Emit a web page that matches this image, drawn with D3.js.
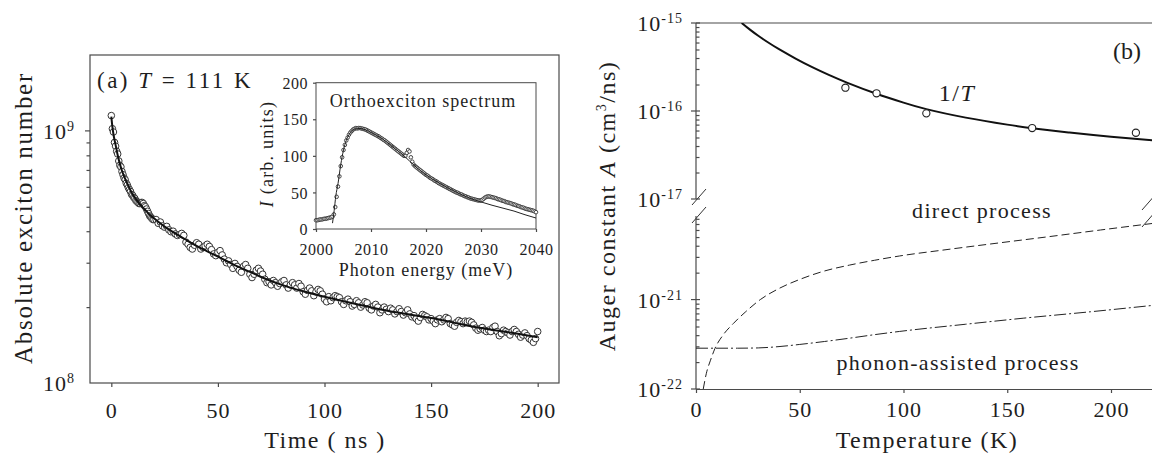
<!DOCTYPE html>
<html>
<head>
<meta charset="utf-8">
<script src="https://cdn.jsdelivr.net/npm/d3@7"></script>
<style>
body { margin: 0; background: #fff; }
text { font-family: "Liberation Serif", "Times New Roman", serif; fill: #1e1e1e; }
</style>
</head>
<body>
<svg id="fig" width="1152" height="454"></svg>
<script>
// ---- panel (a): exciton number decay, units of 1e8 ----
var earlyStep = 0.5;   // samples 0..20 ns
var earlyN = [11.5,10.2,9.9,9.0,8.7,8.3,8.1,7.6,7.3,7.2,6.9,6.7,6.5,6.4,6.2,6.1,5.95,5.85,5.75,5.6,
  5.55,5.45,5.4,5.3,5.25,5.2,5.15,5.15,5.2,5.2,5.15,5.05,5.0,4.9,4.8,4.7,4.6,4.55,4.5,4.45,4.45];
var lateStart = 21;    // samples 21..200 ns, 1 ns apart
var lateN = [4.45,4.3,4.35,4.2,4.15,4.18,4.05,3.98,4.0,3.9,
  3.85,3.88,3.92,3.85,3.62,3.55,3.45,3.4,3.52,3.6,
  3.55,3.4,3.45,3.5,3.55,3.48,3.38,3.25,3.2,3.3,
  3.35,3.22,3.1,3.0,3.05,2.95,2.85,2.98,2.9,2.8,
  2.75,2.9,2.95,2.85,2.7,2.62,2.7,2.8,2.85,2.78,
  2.7,2.58,2.5,2.52,2.45,2.55,2.5,2.42,2.48,2.52,
  2.55,2.45,2.38,2.45,2.5,2.45,2.38,2.48,2.42,2.3,
  2.25,2.33,2.38,2.32,2.22,2.3,2.35,2.32,2.25,2.15,
  2.1,2.2,2.12,2.18,2.22,2.2,2.18,2.1,2.05,2.12,
  2.15,2.1,2.02,2.05,2.12,2.08,2.0,2.04,2.1,2.08,
  1.98,1.95,2.02,2.05,2.0,1.9,1.95,2.0,1.96,1.92,
  1.98,1.95,1.88,1.92,1.97,1.92,1.86,1.9,1.95,1.88,
  1.83,1.85,1.8,1.76,1.82,1.87,1.85,1.83,1.78,1.8,
  1.76,1.72,1.78,1.8,1.75,1.78,1.82,1.8,1.72,1.7,
  1.68,1.74,1.77,1.75,1.72,1.76,1.75,1.76,1.74,1.7,
  1.65,1.62,1.64,1.66,1.62,1.6,1.62,1.6,1.66,1.68,
  1.6,1.54,1.57,1.62,1.6,1.58,1.55,1.6,1.63,1.6,
  1.56,1.52,1.55,1.58,1.54,1.5,1.48,1.45,1.5,1.6];
var fitT = [0,0.5,1,2,3,4,5,6,8,10,12,14,16,18,20,25,30,35,40,45,50,55,60,65,70,80,90,100,110,120,130,140,150,160,170,180,190,200];
var fitN = [11.4,10.4,9.7,8.8,8.0,7.4,6.95,6.6,6.05,5.6,5.3,5.05,4.85,4.65,4.5,4.17,3.92,3.7,3.5,3.33,3.17,3.02,2.88,2.76,2.64,2.45,2.31,2.2,2.1,2.01,1.93,1.87,1.81,1.74,1.67,1.62,1.57,1.52];
var timeTicks = [0,50,100,150,200];
var nMinor = [2,3,4,5,6,7,8,9].map(function(k){ return k*1e8; });

// ---- inset: orthoexciton spectrum ----
var specStart = 2000, specStep = 0.25;
var specI = [12,12,12.5,13,13,13.5,14,14,14.5,15,15.5,16,17,20,30,44,58,72,86,98,
  108,115,121,125,129,132,134,136,137,138,137.5,138,138,137.5,137,136.5,136,135,134,133,
  132,131,130,129,128,127,126,124.5,123.5,122,121,119.5,118,116.5,115,113.5,112,110.5,109,107.5,
  106,104.5,103,101.5,100,100,104,108,106,98,92,88,86,84.5,83,81.5,80,78.5,77,75.5,
  74,73,71.5,70,69,68,66.5,65.5,64.5,63,62,61,60,59,58,57,56,55,54,53,
  52,51,50,49.5,48.5,47.5,47,46,45,44.5,43.5,43,42,41.5,41,40.5,40,39.5,39,39,
  39,40,41.5,43,44,44.5,44.5,44,43.5,43,42.5,42,41,40.5,40,39,38.5,38,37,36.5,
  36,35.5,35,34,33.5,33,32,31.5,31,30,29.5,29,28,27.5,27,26.5,26,25.5,25,24,
  23];
var specFitE = [2003,2003.3,2003.6,2004,2004.5,2005,2005.5,2006,2007,2008,2009,2010,2012,2014,2016,2018,2020,2022,2024,2026,2028,2030,2032,2034,2036,2038,2040];
var specFitI = [8,25,45,62,88,108,121,129,136.5,137.5,135.5,132,123.5,112,100,86,74,64.5,56,48.5,42,37,32.5,28.5,24.5,19.5,15];
var energyTicks = [2000,2010,2020,2030,2040];
var intensityTicks = [0,50,100,150,200];

// ---- panel (b): Auger constant ----
var tempPts = [72,87,111,162,212];
var augerPts = [1.84e-16,1.59e-16,9.4e-17,6.4e-17,5.66e-17];
var fitTemp = [22,26,30,35,40,48,56,64,73,87,100,111,130,150,162,180,200,220];
var fitAuger = [1e-15,8.41e-16,7.16e-16,5.96e-16,5.04e-16,3.94e-16,3.15e-16,2.57e-16,2.09e-16,1.57e-16,1.245e-16,1.05e-16,8.41e-17,7.0e-17,6.38e-17,5.69e-17,5.1e-17,4.66e-17];
var directT = [3.5,5,7,9.2,13,18,24,31,40,50,62,74,86,98,120,146,170,195,220];
var directA = [1e-22,1.5e-22,2.1e-22,2.86e-22,4e-22,5.4e-22,7.33e-22,1e-21,1.33e-21,1.68e-21,2.09e-21,2.43e-21,2.75e-21,3.07e-21,3.6e-21,4.3e-21,5.05e-21,6.0e-21,7.1e-21];
var phononT = [0,20,30,40,50,62,74,86,98,130,158,190,220];
var phononA = [2.86e-22,2.86e-22,2.88e-22,2.98e-22,3.15e-22,3.4e-22,3.7e-22,4.05e-22,4.4e-22,5.3e-22,6.2e-22,7.3e-22,8.6e-22];
var tempTicks = [0,50,100,150,200];
var upperMajor = [1e-17,1e-16,1e-15], upperExp = ["-17","-16","-15"];
var lowerMajor = [1e-22,1e-21], lowerExp = ["-22","-21"];
var upperMinor = [2,3,4,5,6,7,8,9].map(function(k){ return k*1e-17; })
  .concat([2,3,4,5,6,7,8,9].map(function(k){ return k*1e-16; }));
var lowerMinor = [2,3,4,5,6,7,8,9].map(function(k){ return k*1e-22; })
  .concat([2,3,4,5,6,7,8].map(function(k){ return k*1e-21; }));

var svg = d3.select("#fig");
var axisCol = "#4a4a4a";

function powLabel(g, x, y, exp) {
  var t = g.append("text").attr("x", x).attr("y", y).attr("text-anchor", "end")
    .style("font-size", "22px").style("letter-spacing", "1px");
  t.append("tspan").text("10");
  t.append("tspan").attr("dy", -8).style("font-size", "14px").text(exp);
}
function styleAxis(sel, fs) {
  sel.selectAll("path,line").attr("stroke", axisCol).attr("stroke-width", 1.2);
  sel.selectAll("text").style("font-size", fs).style("letter-spacing", "1px")
    .attr("fill", "#1e1e1e").style("font-family", "Liberation Serif");
}

// ================= panel (a) =================
var xA = d3.scaleLinear().domain([-10, 210]).range([90, 559]);
var yA = d3.scaleLog().domain([1e8, 2e9]).range([383, 55]);
var pa = svg.append("g");
pa.append("rect").attr("x", 90).attr("y", 55).attr("width", 469).attr("height", 328)
  .attr("fill", "none").attr("stroke", axisCol).attr("stroke-width", 1.2);

var gxa = pa.append("g").attr("transform", "translate(0,383)")
  .call(d3.axisBottom(xA).tickValues(timeTicks).tickSize(4).tickSizeOuter(0).tickFormat(d3.format("d")));
styleAxis(gxa, "22px");
gxa.select(".domain").remove();
gxa.selectAll("text").attr("y", 35).attr("dy", 0);

var gya = pa.append("g").attr("transform", "translate(90,0)")
  .call(d3.axisLeft(yA).tickValues(nMinor).tickSize(3.5).tickFormat(""));
styleAxis(gya, "22px");
gya.select(".domain").remove();
pa.append("line").attr("x1", 85).attr("x2", 90).attr("y1", yA(1e9)).attr("y2", yA(1e9))
  .attr("stroke", axisCol).attr("stroke-width", 1.2);
powLabel(pa, 75, yA(1e9) + 8, "9");
powLabel(pa, 75, yA(1e8) + 8, "8");

var decay = earlyN.map(function(v, i){ return [i*earlyStep, v*1e8]; })
  .concat(lateN.map(function(v, i){ return [lateStart + i, v*1e8]; }));
pa.append("g").selectAll("circle").data(decay).enter().append("circle")
  .attr("cx", function(d){ return xA(d[0]); })
  .attr("cy", function(d){ return yA(d[1]); })
  .attr("r", 3.3).attr("fill", "#fff").attr("stroke", "#333").attr("stroke-width", 1);
var lineA = d3.line().curve(d3.curveMonotoneX)
  .x(function(d){ return xA(d[0]); }).y(function(d){ return yA(d[1]); });
pa.append("path").datum(fitT.map(function(t, i){ return [t, fitN[i]*1e8]; }))
  .attr("d", lineA).attr("fill", "none").attr("stroke", "#111").attr("stroke-width", 2);

pa.append("text").attr("x", 325).attr("y", 448).attr("text-anchor", "middle")
  .style("font-size", "24px").style("letter-spacing", "1.5px").text("Time ( ns )");
pa.append("text").attr("transform", "translate(32,218) rotate(-90)").attr("text-anchor", "middle")
  .style("font-size", "25px").style("letter-spacing", "1.7px").text("Absolute exciton number");
var ta = pa.append("text").attr("x", 97).attr("y", 88).style("font-size", "23px").style("letter-spacing", "2.5px");
ta.append("tspan").text("(a) ");
ta.append("tspan").style("font-style", "italic").text("T");
ta.append("tspan").text(" = 111 K");

// ================= inset =================
var xI = d3.scaleLinear().domain([2000, 2040]).range([316, 536]);
var yI = d3.scaleLinear().domain([0, 200]).range([229, 82.7]);
var pi = svg.append("g");
pi.append("rect").attr("x", 316).attr("y", 82.7).attr("width", 220).attr("height", 146.3)
  .attr("fill", "#fff").attr("stroke", axisCol).attr("stroke-width", 1);
var gxi = pi.append("g").attr("transform", "translate(0,229)")
  .call(d3.axisBottom(xI).tickValues(energyTicks).tickSize(3).tickSizeOuter(0).tickFormat(d3.format("d")));
styleAxis(gxi, "16px");
gxi.select(".domain").remove();
gxi.selectAll("text").attr("y", 26).attr("dy", 0).style("letter-spacing", "0.5px");
var gyi = pi.append("g").attr("transform", "translate(316,0)")
  .call(d3.axisLeft(yI).tickValues(intensityTicks).tickSize(3).tickSizeOuter(0).tickFormat(d3.format("d")));
styleAxis(gyi, "16px");
gyi.select(".domain").remove();
gyi.selectAll("text").attr("x", -8).attr("dy", "0.35em").style("letter-spacing", "0.5px");

var spec = specI.map(function(v, i){ return [specStart + i*specStep, v]; });
pi.append("g").selectAll("circle").data(spec).enter().append("circle")
  .attr("cx", function(d){ return xI(d[0]); })
  .attr("cy", function(d){ return yI(d[1]); })
  .attr("r", 1.8).attr("fill", "#fff").attr("stroke", "#333").attr("stroke-width", 0.9);
var lineI = d3.line().curve(d3.curveMonotoneX)
  .x(function(d){ return xI(d[0]); }).y(function(d){ return yI(d[1]); });
pi.append("path").datum(specFitE.map(function(e, i){ return [e, specFitI[i]]; }))
  .attr("d", lineI).attr("fill", "none").attr("stroke", "#222").attr("stroke-width", 1);

pi.append("text").attr("x", 423).attr("y", 107).attr("text-anchor", "middle")
  .style("font-size", "18px").style("letter-spacing", "1px").text("Orthoexciton spectrum");
pi.append("text").attr("x", 426).attr("y", 276).attr("text-anchor", "middle")
  .style("font-size", "18px").style("letter-spacing", "1px").text("Photon energy (meV)");
var ti = pi.append("text").attr("transform", "translate(273,154) rotate(-90)").attr("text-anchor", "middle")
  .style("font-size", "18px").style("letter-spacing", "1.2px");
ti.append("tspan").style("font-style", "italic").text("I");
ti.append("tspan").text(" (arb. units)");

// ================= panel (b) =================
var xB = d3.scaleLinear().domain([0, 220]).range([696, 1152.5]);
var yUp = d3.scaleLog().domain([1e-17, 1e-15]).range([199, 23]);
var yLo = d3.scaleLog().domain([1e-22, 8.6e-21]).range([389, 216]);
var pb = svg.append("g");

var defs = svg.append("defs");
defs.append("clipPath").attr("id", "clipUp").append("rect")
  .attr("x", 696).attr("y", 23).attr("width", 460).attr("height", 176);
defs.append("clipPath").attr("id", "clipLo").append("rect")
  .attr("x", 696).attr("y", 216).attr("width", 460).attr("height", 173);

// frame pieces
pb.append("line").attr("x1", 696).attr("x2", 1152).attr("y1", 23).attr("y2", 23)
  .attr("stroke", axisCol).attr("stroke-width", 1.2);
pb.append("line").attr("x1", 696).attr("x2", 696).attr("y1", 23).attr("y2", 199)
  .attr("stroke", axisCol).attr("stroke-width", 1.2);
pb.append("line").attr("x1", 696).attr("x2", 696).attr("y1", 216).attr("y2", 389)
  .attr("stroke", axisCol).attr("stroke-width", 1.2);

var gxb = pb.append("g").attr("transform", "translate(0,389)")
  .call(d3.axisBottom(xB).tickValues(tempTicks).tickSize(4).tickSizeOuter(0).tickFormat(d3.format("d")));
styleAxis(gxb, "22px");
gxb.selectAll("text").attr("y", 28).attr("dy", 0);

[[yUp, upperMinor], [yLo, lowerMinor]].forEach(function(p) {
  var g = pb.append("g").attr("transform", "translate(696,0)")
    .call(d3.axisRight(p[0]).tickValues(p[1]).tickSize(3.5).tickFormat(""));
  styleAxis(g, "22px");
  g.select(".domain").remove();
});
upperMajor.forEach(function(v, i) {
  pb.append("line").attr("x1", 691).attr("x2", 700).attr("y1", yUp(v)).attr("y2", yUp(v))
    .attr("stroke", axisCol).attr("stroke-width", 1.2);
  powLabel(pb, 683, yUp(v) + 8, upperExp[i]);
});
lowerMajor.forEach(function(v, i) {
  pb.append("line").attr("x1", 691).attr("x2", 700).attr("y1", yLo(v)).attr("y2", yLo(v))
    .attr("stroke", axisCol).attr("stroke-width", 1.2);
  powLabel(pb, 683, yLo(v) + 8, lowerExp[i]);
});

// axis break marks
[[699, 197], [699, 215], [1149, 202], [1149, 219]].forEach(function(b) {
  pb.append("line").attr("x1", b[0] - 7).attr("y1", b[1] + 8).attr("x2", b[0] + 7).attr("y2", b[1] - 8)
    .attr("stroke", "#333").attr("stroke-width", 1);
});

var upLine = d3.line().curve(d3.curveNatural)
  .x(function(d){ return xB(d[0]); }).y(function(d){ return yUp(d[1]); });
var loLine = d3.line().curve(d3.curveMonotoneX)
  .x(function(d){ return xB(d[0]); }).y(function(d){ return yLo(d[1]); });

pb.append("path").attr("clip-path", "url(#clipUp)")
  .datum(fitTemp.map(function(t, i){ return [t, fitAuger[i]]; }))
  .attr("d", upLine).attr("fill", "none").attr("stroke", "#111").attr("stroke-width", 2);
pb.append("g").selectAll("circle").data(tempPts).enter().append("circle")
  .attr("cx", function(d){ return xB(d); })
  .attr("cy", function(d, i){ return yUp(augerPts[i]); })
  .attr("r", 3.6).attr("fill", "#fff").attr("stroke", "#222").attr("stroke-width", 1.1);

pb.append("path").attr("clip-path", "url(#clipLo)")
  .datum(directT.map(function(t, i){ return [t, directA[i]]; }))
  .attr("d", loLine).attr("fill", "none").attr("stroke", "#222").attr("stroke-width", 1)
  .attr("stroke-dasharray", "8,4");
pb.append("path").attr("clip-path", "url(#clipLo)")
  .datum(phononT.map(function(t, i){ return [t, phononA[i]]; }))
  .attr("d", loLine).attr("fill", "none").attr("stroke", "#222").attr("stroke-width", 1)
  .attr("stroke-dasharray", "12,3,2,3");

var tT = pb.append("text").attr("x", 957).attr("y", 101).attr("text-anchor", "middle")
  .style("font-size", "24px").style("letter-spacing", "1.5px");
tT.append("tspan").text("1/");
tT.append("tspan").style("font-style", "italic").text("T");
pb.append("text").attr("x", 1127).attr("y", 59).attr("text-anchor", "middle")
  .style("font-size", "24px").text("(b)");
pb.append("text").attr("x", 982).attr("y", 218).attr("text-anchor", "middle")
  .style("font-size", "22px").style("letter-spacing", "1.3px").text("direct process");
pb.append("text").attr("x", 958).attr("y", 370).attr("text-anchor", "middle")
  .style("font-size", "22px").style("letter-spacing", "1.3px").text("phonon-assisted process");
pb.append("text").attr("x", 927).attr("y", 448).attr("text-anchor", "middle")
  .style("font-size", "24px").style("letter-spacing", "1.5px").text("Temperature (K)");
var tb = pb.append("text").attr("transform", "translate(615,206) rotate(-90)").attr("text-anchor", "middle")
  .style("font-size", "24px").style("letter-spacing", "1.5px");
tb.append("tspan").text("Auger constant ");
tb.append("tspan").style("font-style", "italic").text("A");
tb.append("tspan").text(" (cm");
tb.append("tspan").attr("dy", -9).style("font-size", "14px").text("3");
tb.append("tspan").attr("dy", 9).text("/ns)");
</script>
</body>
</html>
